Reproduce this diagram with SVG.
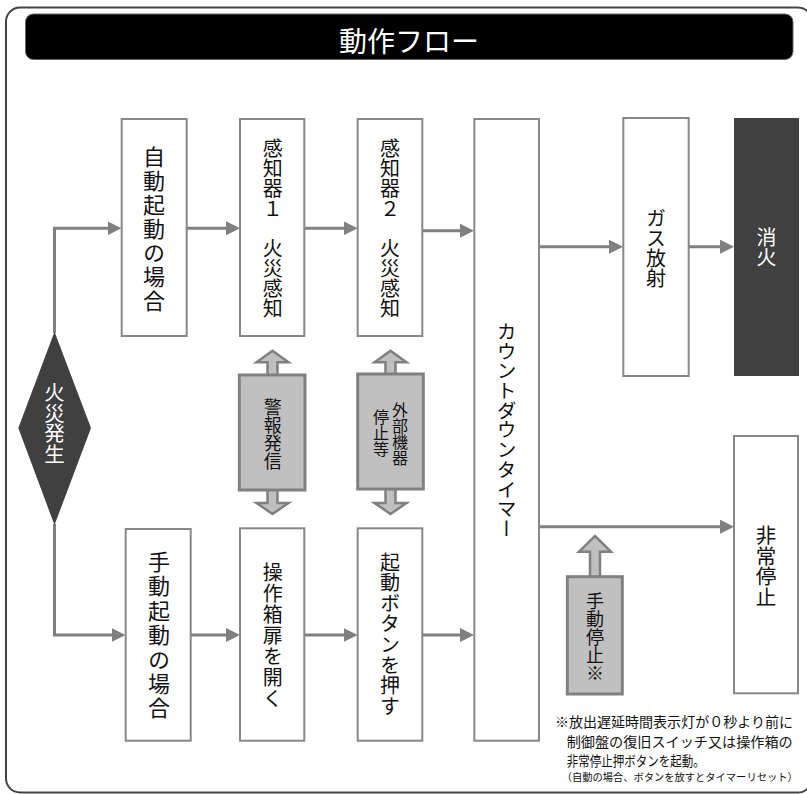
<svg xmlns="http://www.w3.org/2000/svg" width="807" height="794" viewBox="0 0 807 794">
<defs>
<style>
text{font-family:"Noto Sans CJK JP","Noto Sans",sans-serif;fill:#111;}
.v{writing-mode:vertical-rl;text-anchor:middle;font-size:20px;}
.w{fill:#fff;}
.box{fill:#fff;stroke:#888;stroke-width:2;}
.gbox{fill:#c0c0c0;stroke:#808080;stroke-width:3;}
.harrow{fill:#c0c0c0;stroke:#808080;stroke-width:2.5;stroke-linejoin:miter;}
.dark{fill:#404040;}
.conn{fill:none;stroke:#808080;stroke-width:3;marker-end:url(#ah);}
.note{font-size:14px;}
</style>
<marker id="ah" markerUnits="userSpaceOnUse" markerWidth="14" markerHeight="14" refX="4" refY="7" orient="auto">
<path d="M0,0 L14,7 L0,14 z" fill="#808080"/>
</marker>
</defs>
<rect x="0" y="0" width="807" height="794" fill="#fff"/>
<rect id="frame" x="6" y="7.5" width="806" height="785" rx="14" ry="14" fill="none" stroke="#444" stroke-width="2"/>
<g id="title">
<rect x="25.5" y="14" width="767.5" height="45.5" rx="8" ry="8" fill="#000" stroke="#666" stroke-width="1"/>
<text x="409" y="52" text-anchor="middle" class="w" style="font-size:28px;">動作フロー</text>
</g>

<g id="connectors">
<path class="conn" d="M54.5,333 V228.3 H111.5"/>
<path class="conn" d="M54.5,524 V635 H115.5"/>
<path class="conn" d="M186.7,228.3 H230"/>
<path class="conn" d="M304.3,228.3 H347.7"/>
<path class="conn" d="M422.3,230.7 H464"/>
<path class="conn" d="M539,246.7 H613"/>
<path class="conn" d="M688.7,246.7 H724"/>
<path class="conn" d="M539,526.7 H724"/>
<path class="conn" d="M190.7,635 H230"/>
<path class="conn" d="M304.3,635 H347.7"/>
<path class="conn" d="M422.3,635 H464"/>
</g>

<g id="n-fire">
<polygon class="dark" points="54.5,331.7 91,428 54.5,525 18.3,428"/>
<text class="v w" x="54.5" y="423" style="font-size:20.5px;">火災発生</text>
</g>

<g id="n-auto">
<rect class="box" x="121.7" y="119" width="65" height="217"/>
<text class="v" x="154" y="230" style="font-size:22px;letter-spacing:2px;">自動起動の場合</text>
</g>

<g id="n-sensor1">
<rect class="box" x="240" y="119" width="64.3" height="217"/>
<text class="v" x="272.7" y="228.5">感知器１　火災感知</text>
</g>

<g id="n-sensor2">
<rect class="box" x="357.7" y="119" width="64.6" height="217"/>
<text class="v" x="390" y="228.5">感知器２　火災感知</text>
</g>

<g id="n-timer">
<rect class="box" x="474.3" y="119" width="64.7" height="621.7"/>
<text class="v" x="506.7" y="430" style="font-size:19.7px;">カウントダウンタイマー</text>
</g>

<g id="n-gas">
<rect class="box" x="623.3" y="118" width="65.4" height="258"/>
<text class="v" x="656" y="248">ガス放射</text>
</g>

<g id="n-extinguish">
<rect class="dark" x="734" y="118" width="65" height="258"/>
<text class="v w" x="766.5" y="247.5">消火</text>
</g>

<g id="n-alarm">
<polygon class="harrow" points="272.5,350.7 288.5,362.3 277.5,362.3 277.5,377 267.5,377 267.5,362.3 256.5,362.3"/>
<polygon class="harrow" points="272.5,514 288.5,503 277.5,503 277.5,488 267.5,488 267.5,503 256.5,503"/>
<rect class="gbox" x="239.3" y="375" width="65.7" height="115"/>
<text class="v" x="272.7" y="434" style="font-size:18px;">警報発信</text>
</g>

<g id="n-external">
<polygon class="harrow" points="390.5,350.7 406.5,362.3 395.5,362.3 395.5,376 385.5,376 385.5,362.3 374.5,362.3"/>
<polygon class="harrow" points="390.5,514 406.5,503 395.5,503 395.5,487 385.5,487 385.5,503 374.5,503"/>
<rect class="gbox" x="357.7" y="374" width="65.6" height="115"/>
<text class="v" x="400" y="434" style="font-size:16px;">外部機器</text>
<text class="v" x="381" y="433" style="font-size:16px;">停止等</text>
</g>

<g id="n-manual">
<rect class="box" x="125.7" y="529" width="65" height="211.7"/>
<text class="v" x="159" y="636" style="font-size:22px;letter-spacing:2.4px;">手動起動の場合</text>
</g>

<g id="n-openbox">
<rect class="box" x="240" y="528.3" width="64.3" height="212.4"/>
<text class="v" x="272.7" y="635.5" style="letter-spacing:1px;">操作箱扉を開く</text>
</g>

<g id="n-button">
<rect class="box" x="357.7" y="528.3" width="64.6" height="212.4"/>
<text class="v" x="390" y="634.5" style="letter-spacing:0.6px;">起動ボタンを押す</text>
</g>

<g id="n-manualstop">
<polygon class="harrow" points="595,536 611,551.7 600,551.7 600,579 590,579 590,551.7 579,551.7"/>
<rect class="gbox" x="567.3" y="576.7" width="55" height="117.3"/>
<text class="v" x="595" y="637" style="font-size:18px;">手動停止※</text>
</g>

<g id="n-emergency">
<rect class="box" x="734" y="436" width="64" height="257.3"/>
<text class="v" x="766" y="566" style="font-size:20.5px;">非常停止</text>
</g>

<g id="note">
<text class="note" x="555" y="727" textLength="238" lengthAdjust="spacingAndGlyphs">※放出遅延時間表示灯が０秒より前に</text>
<text class="note" x="566.7" y="746.5" textLength="226" lengthAdjust="spacingAndGlyphs">制御盤の復旧スイッチ又は操作箱の</text>
<text class="note" x="566.7" y="765.5" textLength="138" lengthAdjust="spacingAndGlyphs">非常停止押ボタンを起動。</text>
<text x="561.7" y="780.5" style="font-size:10.5px;" textLength="236" lengthAdjust="spacingAndGlyphs">（自動の場合、ボタンを放すとタイマーリセット）</text>
</g>
</svg>
